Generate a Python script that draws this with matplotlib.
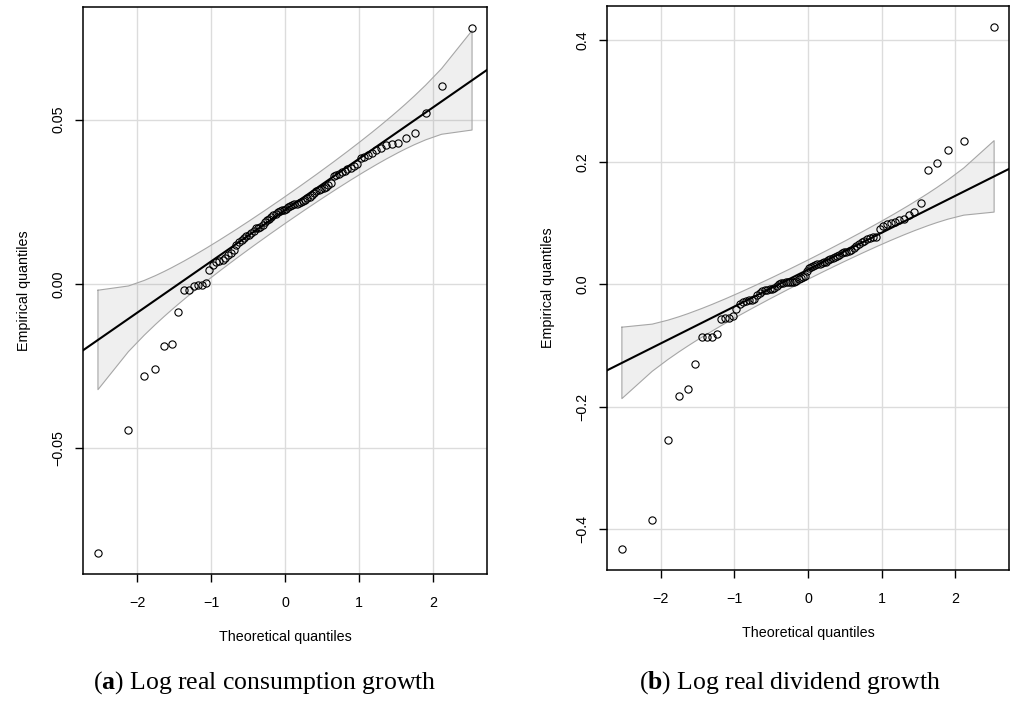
from statistics import NormalDist

import matplotlib
matplotlib.use("Agg")
import matplotlib.pyplot as plt
import numpy as np

# sorted empirical values, n = 88
consumption = [
    -0.0818, -0.0444, -0.0280, -0.0258, -0.0188, -0.0181, -0.0085, -0.0019,
    -0.0017, -0.0005, -0.0003, -0.0002, 0.0004, 0.0043, 0.0058, 0.0066,
    0.0070, 0.0074, 0.0080, 0.0088, 0.0096, 0.0104, 0.0118, 0.0128,
    0.0135, 0.0140, 0.0145, 0.0150, 0.0155, 0.0162, 0.0170, 0.0172,
    0.0175, 0.0180, 0.0188, 0.0194, 0.0198, 0.0205, 0.0210, 0.0214,
    0.0218, 0.0221, 0.0224, 0.0226, 0.0229, 0.0233, 0.0238, 0.0241,
    0.0243, 0.0245, 0.0247, 0.0250, 0.0253, 0.0257, 0.0262, 0.0266,
    0.0271, 0.0278, 0.0283, 0.0287, 0.0290, 0.0293, 0.0296, 0.0300,
    0.0308, 0.0330, 0.0333, 0.0336, 0.0340, 0.0345, 0.0350, 0.0354,
    0.0358, 0.0365, 0.0384, 0.0388, 0.0393, 0.0400, 0.0408, 0.0415,
    0.0424, 0.0427, 0.0428, 0.0443, 0.0460, 0.0519, 0.0602, 0.0779,
]
dividend = [
    -0.4334, -0.3854, -0.2541, -0.1832, -0.1718, -0.1303, -0.0862, -0.0860,
    -0.0856, -0.0807, -0.0567, -0.0557, -0.0548, -0.0518, -0.0409, -0.0330,
    -0.0295, -0.0275, -0.0260, -0.0252, -0.0240, -0.0180, -0.0140, -0.0110,
    -0.0092, -0.0088, -0.0080, -0.0072, -0.0062, -0.0030, 0.0005, 0.0015,
    0.0025, 0.0030, 0.0033, 0.0036, 0.0040, 0.0045, 0.0060, 0.0090,
    0.0105, 0.0115, 0.0130, 0.0225, 0.0260, 0.0290, 0.0300, 0.0315,
    0.0328, 0.0340, 0.0350, 0.0362, 0.0372, 0.0390, 0.0408, 0.0428,
    0.0448, 0.0465, 0.0485, 0.0505, 0.0522, 0.0535, 0.0552, 0.0568,
    0.0595, 0.0625, 0.0655, 0.0685, 0.0715, 0.0740, 0.0765, 0.0775,
    0.0780, 0.0900, 0.0960, 0.0985, 0.1000, 0.1020, 0.1045, 0.1075,
    0.1130, 0.1188, 0.1325, 0.1869, 0.1979, 0.2196, 0.2348, 0.4213,
]

# reference line (intercept, slope)
line_cons = (0.0225, 0.0156)
line_div = (0.0240, 0.0603)

yticks_cons = [-0.05, 0.00, 0.05]
yticks_div = [-0.4, -0.2, 0.0, 0.2, 0.4]
xticks = [-2, -1, 0, 1, 2]
captions = [("a", "Log real consumption growth"), ("b", "Log real dividend growth")]

plt.rcParams["font.family"] = ["Liberation Sans", "DejaVu Sans"]
plt.rcParams["mathtext.fontset"] = "custom"
plt.rcParams["mathtext.bf"] = "Liberation Serif:bold"
plt.rcParams["mathtext.rm"] = "Liberation Serif"
FS = 10.3


def qq_panel(ax, values, line, yticks):
    y = np.asarray(values)
    n = len(y)
    p = (np.arange(1, n + 1) - 0.5) / n
    nd = NormalDist()
    z = np.array([nd.inv_cdf(v) for v in p])
    a, b = line
    fit = a + b * z
    dens = np.array([nd.pdf(v) for v in z])
    se = b * np.sqrt(p * (1 - p) / n) / dens
    lo, hi = fit - 1.96 * se, fit + 1.96 * se
    ax.fill_between(z, lo, hi, facecolor="gray", alpha=0.12, edgecolor="none", zorder=1)
    band_x = np.concatenate([z, z[::-1], z[:1]])
    band_y = np.concatenate([hi, lo[::-1], hi[:1]])
    ax.plot(band_x, band_y, color="#a6a6a6", lw=0.8, zorder=2)
    ax.axline((0, a), slope=b, color="black", lw=1.5, zorder=3)
    ax.plot(z, y, "o", mfc="none", mec="black", ms=5.2, mew=0.8, zorder=4)

    xr = z.max() - z.min()
    ax.set_xlim(z.min() - 0.04 * xr, z.max() + 0.04 * xr)
    yr = y.max() - y.min()
    ax.set_ylim(y.min() - 0.04 * yr, y.max() + 0.04 * yr)

    ax.set_xticks(xticks)
    ax.set_yticks(yticks)
    ax.grid(True, color="#dcdcdc", lw=1.0, zorder=0)
    ax.set_axisbelow(True)
    ax.tick_params(direction="out", length=5.5, width=1, labelsize=FS)
    ax.tick_params(axis="x", pad=10)
    ax.tick_params(axis="y", pad=7)
    for lab in ax.get_yticklabels():
        lab.set_rotation(90)
        lab.set_va("center")
    for s in ax.spines.values():
        s.set_linewidth(1.1)
    ax.set_xlabel("Theoretical quantiles", fontsize=FS, labelpad=15)
    ax.set_ylabel("Empirical quantiles", fontsize=FS, labelpad=15)


fig = plt.figure(figsize=(10.13, 7.02), dpi=100)
ax1 = fig.add_axes([83 / 1013, 1 - 574 / 702, 404 / 1013, 567 / 702])
ax2 = fig.add_axes([607 / 1013, 1 - 570 / 702, 402 / 1013, 564 / 702])

qq_panel(ax1, consumption, line_cons, yticks_cons)
qq_panel(ax2, dividend, line_div, yticks_div)
ax1.yaxis.set_major_formatter(matplotlib.ticker.FuncFormatter(lambda v, _: f"{v:.2f}".replace("-", "\u2212")))
ax2.yaxis.set_major_formatter(matplotlib.ticker.FuncFormatter(lambda v, _: f"{v:.1f}".replace("-", "\u2212")))

for (letter, text), cx in zip(captions, [265 / 1013, 790 / 1013]):
    fig.text(cx, 1 - 683 / 702, rf"($\mathbf{{{letter}}}$) {text}", ha="center", va="center",
             fontsize=18.5, family="Liberation Serif")

fig.savefig("out.png", dpi=100)
